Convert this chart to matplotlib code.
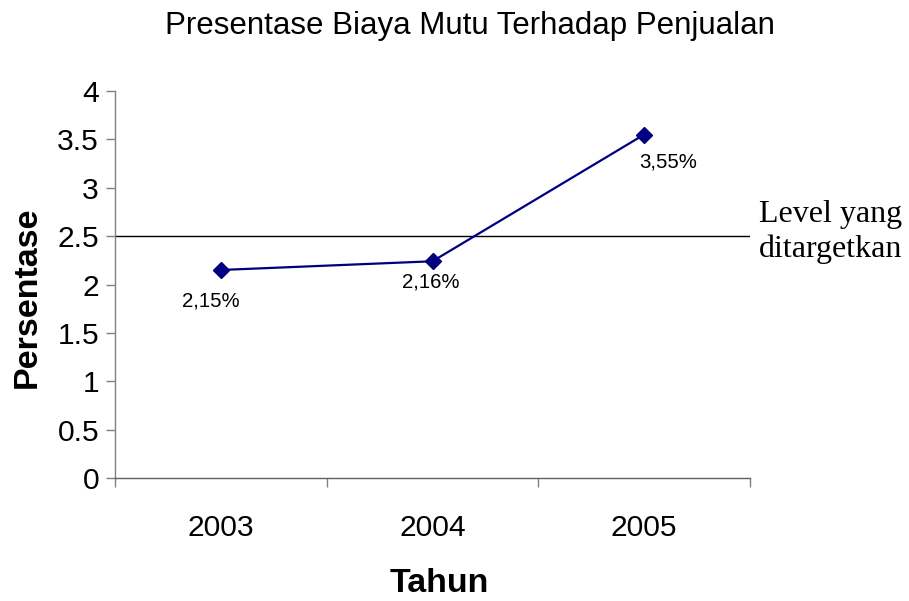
import matplotlib
matplotlib.use("Agg")
import matplotlib.pyplot as plt

# Data
years = ["2003", "2004", "2005"]
values = [2.15, 2.24, 3.55]
value_labels = ["2,15%", "2,16%", "3,55%"]
target_level = 2.5
y_ticks = [0, 0.5, 1, 1.5, 2, 2.5, 3, 3.5, 4]

plt.rcParams['font.family'] = ['Liberation Sans', 'DejaVu Sans']

W, H = 909, 601
fig = plt.figure(figsize=(W / 100, H / 100), dpi=100)
ax = fig.add_axes([115 / W, 1 - 478 / H, 635 / W, 387 / H])

x = list(range(1, len(years) + 1))
ax.plot(x, values, color="#000080", linewidth=1.6, marker="D", markersize=8,
        markerfacecolor="#000080", markeredgecolor="#000080", zorder=3, clip_on=False)

# target line
ax.axhline(target_level, color="black", linewidth=1.0, zorder=2)

# data labels (offsets in points)
offsets = [(-7, -22), (-1, -15), (17, -20)]
for xi, yi, lab, off in zip(x, values, value_labels, offsets):
    ax.annotate(lab, (xi, yi), xytext=off, textcoords="offset points",
                ha="center", va="center", fontsize=14.7, color="black")

ax.set_xlim(0.5, len(years) + 0.5)
ax.set_ylim(0, 4)
ax.set_yticks(y_ticks)
ax.set_yticklabels([f"{t:g}" for t in y_ticks])
ax.set_xticks(x)
ax.set_xticklabels(years)
ax.set_xticks([i + 0.5 for i in range(len(years) + 1)], minor=True)

ax.tick_params(axis="x", which="major", length=0, pad=26, labelsize=21.6)
ax.tick_params(axis="x", which="minor", length=6.5, width=1, color="#808080", direction="out")
ax.tick_params(axis="y", length=6.5, width=1, color="#808080", pad=5, labelsize=21.6, direction="out")

for side in ["top", "right"]:
    ax.spines[side].set_visible(False)
ax.spines["left"].set_color("#808080")
ax.spines["bottom"].set_color("#606060")
ax.spines["left"].set_linewidth(1)
ax.spines["bottom"].set_linewidth(1)

# titles and axis labels
fig.text(470 / W, 1 - 34 / H, "Presentase Biaya Mutu Terhadap Penjualan",
         ha="center", va="baseline", fontsize=22.5)
fig.text(439 / W, 1 - 583 / H, "Tahun", ha="center", va="center",
         fontsize=24.5, fontweight="bold")
fig.text(27 / W, 1 - 297 / H, "Persentase", ha="center", va="center",
         rotation=90, fontsize=24.5, fontweight="bold")

# target label
fig.text(759 / W, 1 - 222 / H, "Level yang", ha="left", va="baseline",
         fontsize=23, family="Liberation Serif")
fig.text(759 / W, 1 - 257 / H, "ditargetkan", ha="left", va="baseline",
         fontsize=23, family="Liberation Serif")

fig.savefig("out.png", dpi=100)
